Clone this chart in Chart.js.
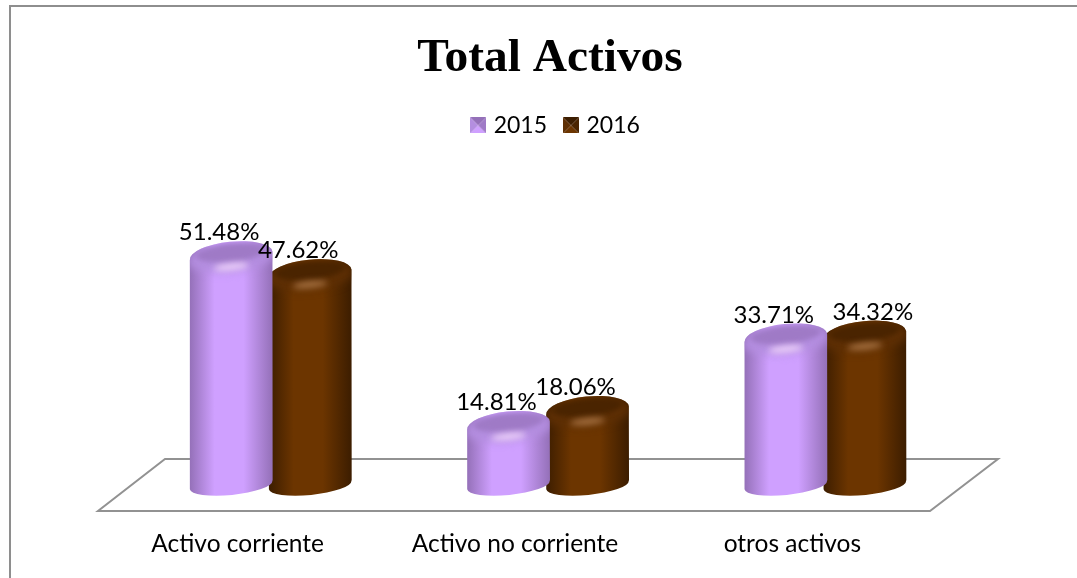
<!DOCTYPE html>
<html>
<head>
<meta charset="utf-8">
<title>Total Activos</title>
<script src="https://cdn.jsdelivr.net/npm/chart.js@4/dist/chart.umd.min.js"></script>
<style>
    html, body { margin: 0; background: #fff; }
    #frame { position: absolute; left: 9px; top: 5px; right: 0; bottom: 0;
             border-left: 2px solid #8e8e8e; border-top: 2px solid #8e8e8e; }
    canvas { position: absolute; left: 0; top: 0; }
</style>
</head>
<body>
<div id="frame"></div>
<canvas id="chart" width="1077" height="578"></canvas>
<script>
/* ---------- Data ---------- */
const categories = ['Activo corriente', 'Activo no corriente', 'otros activos'];
const values2015 = [51.48, 14.81, 33.71];
const values2016 = [47.62, 18.06, 34.32];

/* ---------- Colours ---------- */
const purple = { edge: '#9470b8', mid: '#cfa0ff', lid: '#b48ee0', dark: '#9f7ac6', shine: 'rgba(250,225,255,.8)' };
const brown  = { edge: '#3c1d00', mid: '#6c3500', lid: '#5e2f04', dark: '#4a2400', shine: 'rgba(190,135,85,.75)' };

const TILT = -0.1;

/* small pyramid marker for the legend */
function legendIcon(c) {
    const cv = document.createElement('canvas');
    cv.width = 16; cv.height = 16;
    const g = cv.getContext('2d');
    const tri = (col, pts) => {
        g.fillStyle = col;
        g.beginPath();
        pts.forEach((p, i) => i ? g.lineTo(p[0], p[1]) : g.moveTo(p[0], p[1]));
        g.closePath();
        g.fill();
    };
    tri(c.mid, [[0, 16], [16, 16], [8, 8]]);
    tri(c.edge, [[0, 0], [16, 0], [8, 8]]);
    tri(c.lid, [[0, 0], [0, 16], [8, 8]]);
    tri(c.dark, [[16, 0], [16, 16], [8, 8]]);
    return cv;
}

/* cylinder from the bar element the library laid out */
function drawCylinder(ctx, bar, c) {
    const rx = bar.width / 2, ry = 14;
    const x0 = bar.x - rx, x1 = bar.x + rx;
    const botY = bar.base - 9;

    ctx.save();
    ctx.beginPath();
    ctx.ellipse(bar.x, bar.y, rx, ry, TILT, Math.PI, 2 * Math.PI);
    ctx.lineTo(x1, botY - 5);
    ctx.ellipse(bar.x, botY, rx, 10, TILT, 0, Math.PI);
    ctx.closePath();

    const body = ctx.createLinearGradient(x0, 0, x1, 0);
    body.addColorStop(0, c.edge);
    body.addColorStop(0.3, c.mid);
    body.addColorStop(0.65, c.mid);
    body.addColorStop(1, c.edge);
    ctx.fillStyle = body;
    ctx.fill();
    ctx.clip();

    // soft rim, blends into the body below
    ctx.beginPath();
    ctx.ellipse(bar.x, bar.y + 2, rx + 2, ry, TILT, 0, 2 * Math.PI);
    ctx.fillStyle = c.lid;
    ctx.filter = 'blur(4px)';
    ctx.fill();

    // flat dark top
    ctx.beginPath();
    ctx.ellipse(bar.x, bar.y - 3, rx * 0.85, 9, TILT, 0, 2 * Math.PI);
    ctx.filter = 'blur(2.5px)';
    ctx.fillStyle = c.dark;
    ctx.fill();

    // highlight on the front of the rim
    ctx.beginPath();
    ctx.ellipse(bar.x, bar.y + 11, rx * 0.42, 3.5, TILT, 0, 2 * Math.PI);
    ctx.filter = 'blur(3px)';
    ctx.fillStyle = c.shine;
    ctx.fill();
    ctx.restore();
}

/* ---------- Plugin: floor, cylinders, labels ---------- */
const cylinderPlugin = {
    id: 'cylinders',
    afterLayout(chart) {
        chart.titleBlock.left += 2; chart.titleBlock.right += 2;
        chart.legend.left += 9; chart.legend.right += 9;
    },
    beforeDatasetsDraw(chart) {
        const { ctx, chartArea: a } = chart;
        ctx.save();
        ctx.strokeStyle = '#929292';
        ctx.lineWidth = 2;
        ctx.beginPath();
        ctx.moveTo(a.left - 34, a.bottom + 17);
        ctx.lineTo(a.right - 34, a.bottom + 17);
        ctx.lineTo(a.right + 34, a.bottom - 35);
        ctx.lineTo(a.left + 33, a.bottom - 35);
        ctx.closePath();
        ctx.stroke();
        ctx.restore();
    },
    beforeDatasetDraw(chart, args) {
        const c = args.index === 0 ? purple : brown;
        chart.getDatasetMeta(args.index).data.forEach(bar => drawCylinder(chart.ctx, bar, c));
        return false;
    },
    afterDatasetsDraw(chart) {
        const { ctx } = chart;
        ctx.save();
        ctx.font = '24px Lato';
        ctx.fillStyle = '#000';
        ctx.textAlign = 'center';
        ctx.textBaseline = 'middle';
        chart.data.datasets.forEach((ds, d) => {
            chart.getDatasetMeta(d).data.forEach((bar, i) => {
                // the last label sits to the right of its column in the original
                const dx = (d === 1 && i === 2) ? 8 : -12;
                ctx.fillText(ds.data[i].toFixed(2) + '%', bar.x + dx, bar.y - 23);
            });
        });
        ctx.restore();
    }
};

/* ---------- Chart ---------- */
new Chart(document.getElementById('chart'), {
    type: 'bar',
    data: {
        labels: categories,
        datasets: [
            { label: '2015', data: values2015, backgroundColor: purple.mid },
            { label: '2016', data: values2016, backgroundColor: brown.mid }
        ]
    },
    options: {
        responsive: false,
        animation: false,
        categoryPercentage: 0.57,
        barPercentage: 1.05,
        layout: { padding: { left: 132, right: 113, top: 30, bottom: 5 } },
        scales: {
            x: {
                grid: { display: false },
                border: { display: false },
                afterFit(scale) { scale.height = 79; },
                ticks: { color: '#000', font: { family: 'Lato', size: 24.5 }, padding: 27, labelOffset: -33, maxRotation: 0 }
            },
            y: { display: false, min: 0, max: 75 }
        },
        plugins: {
            title: {
                display: true,
                text: 'Total Activos',
                color: '#000',
                font: { family: 'Liberation Serif', size: 47.4, weight: 'bold' },
                padding: { top: 0, bottom: 7 }
            },
            legend: {
                position: 'top',
                labels: {
                    color: '#000',
                    font: { family: 'Lato', size: 23 },
                    usePointStyle: true,
                    boxWidth: 8,
                    padding: 20,
                    generateLabels(chart) {
                        const items = Chart.defaults.plugins.legend.labels.generateLabels(chart);
                        items.forEach((it, i) => { it.pointStyle = legendIcon(i === 0 ? purple : brown); });
                        return items;
                    }
                }
            },
            tooltip: { enabled: false }
        }
    },
    plugins: [cylinderPlugin]
});
</script>
</body>
</html>
